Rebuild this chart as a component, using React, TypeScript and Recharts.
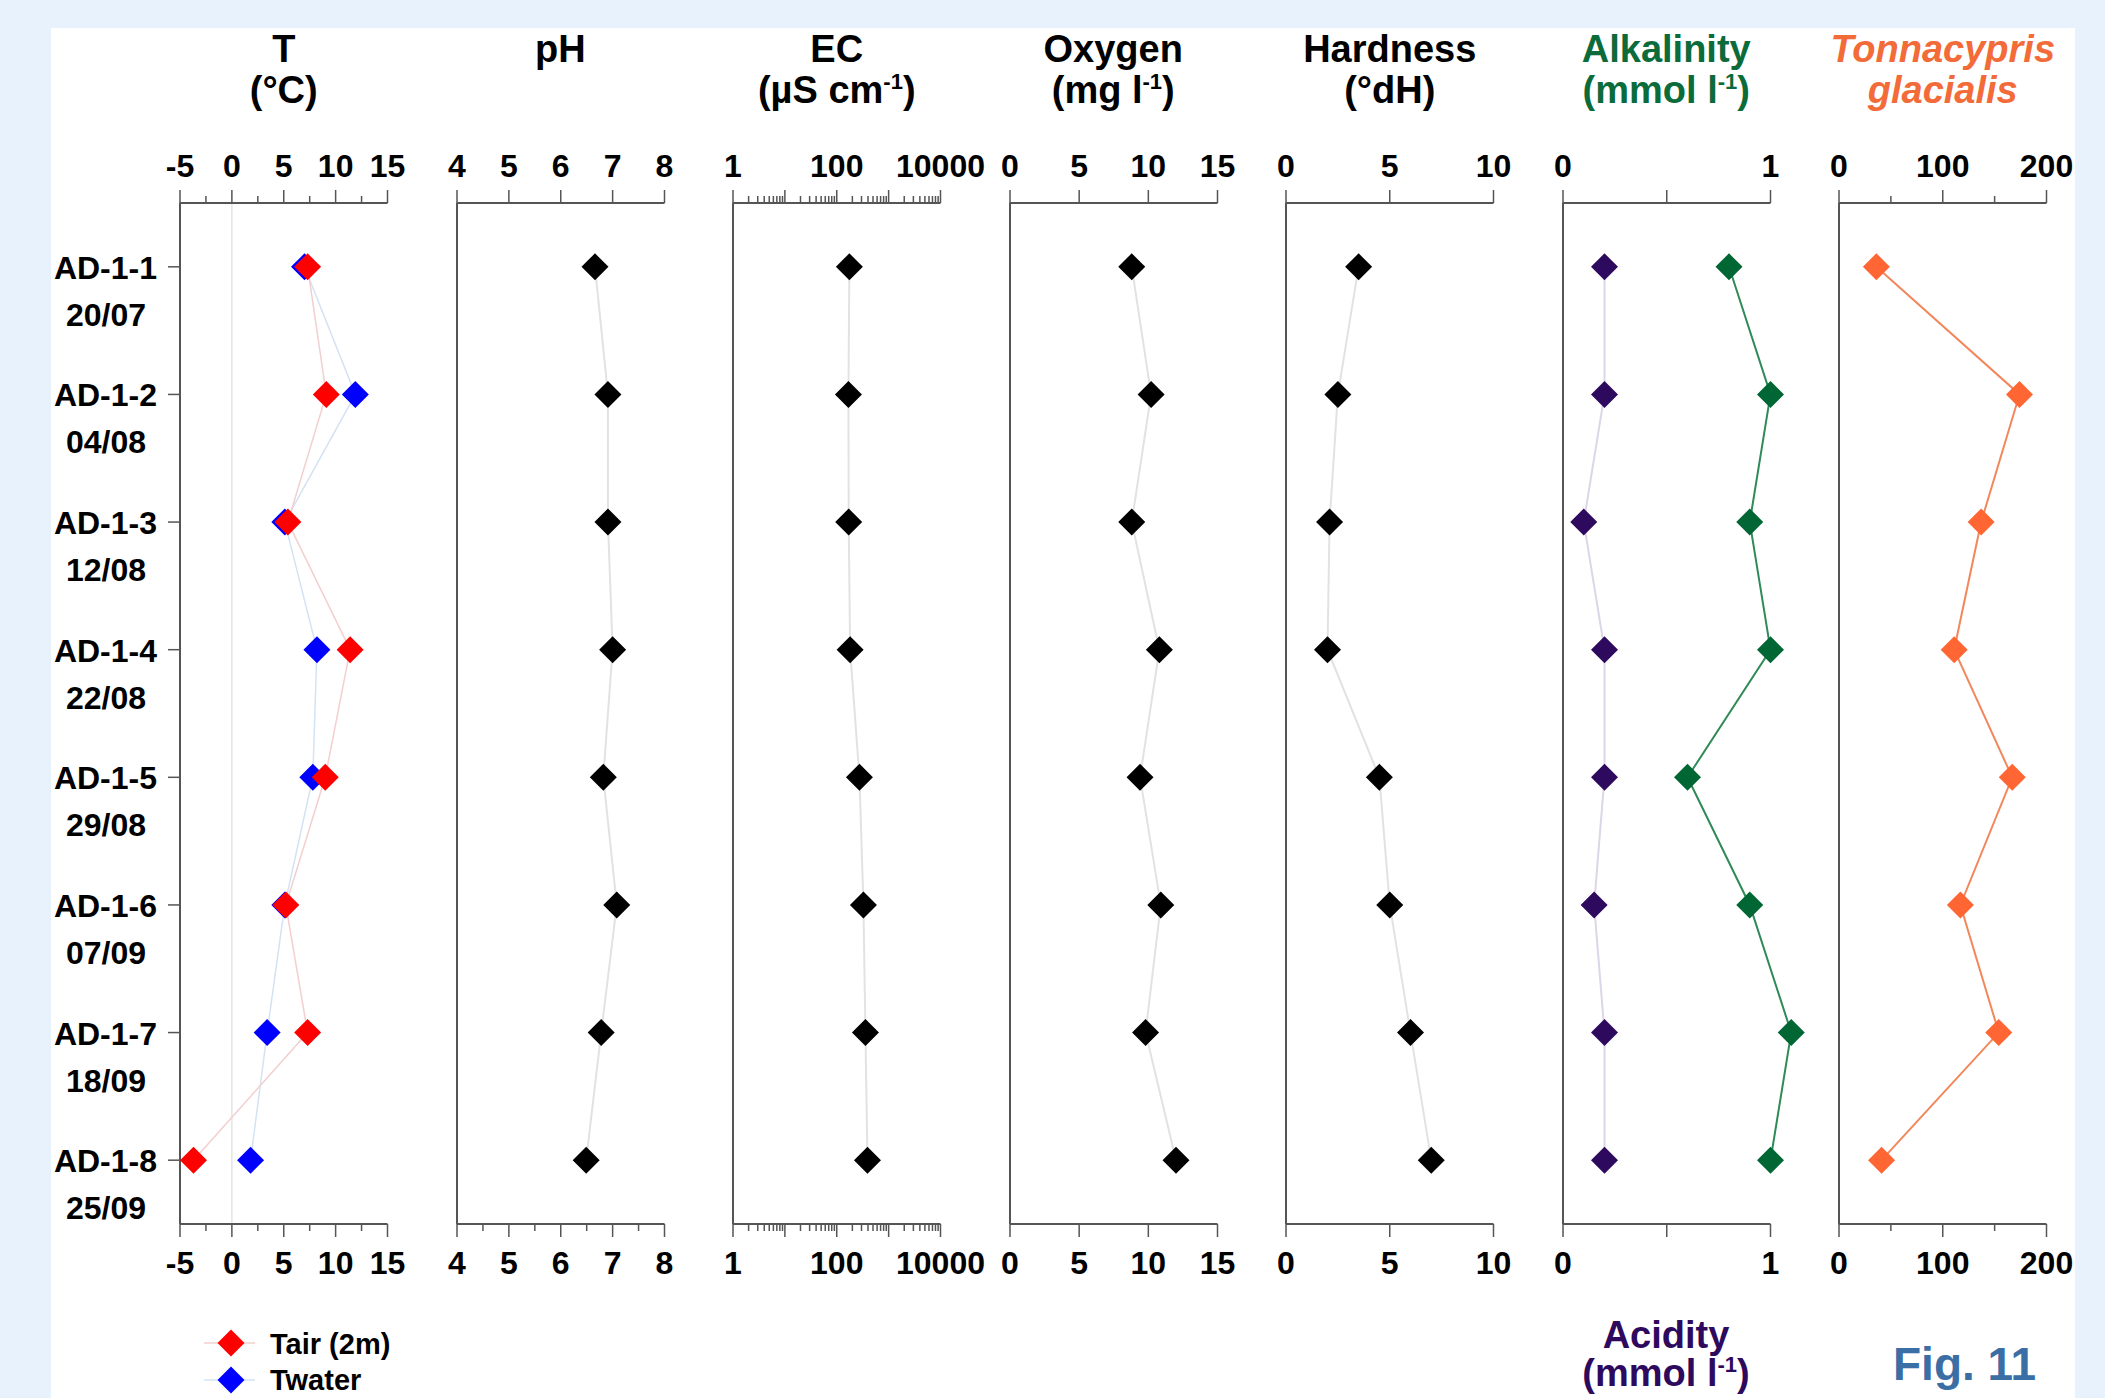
import React from "react";
import { ReferenceLine, Scatter, ScatterChart, XAxis, YAxis } from "recharts";

// sampling sites and dates (top to bottom)
const sites = ["AD-1-1", "AD-1-2", "AD-1-3", "AD-1-4", "AD-1-5", "AD-1-6", "AD-1-7", "AD-1-8"];
const dates = ["20/07", "04/08", "12/08", "22/08", "29/08", "07/09", "18/09", "25/09"];

// measured values per site
const tAir = [7.3, 9.1, 5.4, 11.4, 9.0, 5.2, 7.3, -3.7];
const tWater = [7.0, 11.9, 5.1, 8.2, 7.8, 5.1, 3.4, 1.8];
const ph = [6.66, 6.91, 6.91, 7.0, 6.82, 7.08, 6.78, 6.49];
const ec = [175, 168, 170, 181, 274, 327, 357, 391];
const oxygen = [8.8, 10.2, 8.8, 10.8, 9.4, 10.9, 9.8, 12.0];
const hardness = [3.5, 2.5, 2.1, 2.0, 4.5, 5.0, 6.0, 7.0];
const alkalinity = [0.8, 1.0, 0.9, 1.0, 0.6, 0.9, 1.1, 1.0];
const acidity = [0.2, 0.2, 0.1, 0.2, 0.2, 0.15, 0.2, 0.2];
const tonnacypris = [36, 174, 137, 111, 167, 117, 154, 41];

// axis ticks
const tTicks = [-5, -2.5, 0, 2.5, 5, 7.5, 10, 12.5, 15];
const tLabels = [-5, 0, 5, 10, 15];
const phTopTicks = [4, 5, 6, 7, 8];
const phBottomTicks = [4, 4.5, 5, 5.5, 6, 6.5, 7, 7.5, 8];
const ecTicks = [
  1, 2, 3, 4, 5, 6, 7, 8, 9,
  10, 20, 30, 40, 50, 60, 70, 80, 90,
  100, 200, 300, 400, 500, 600, 700, 800, 900,
  1000, 2000, 3000, 4000, 5000, 6000, 7000, 8000, 9000,
  10000,
];
const ecMajors = [1, 10, 100, 1000, 10000];
const ecLabels = [1, 100, 10000];
const oxygenTicks = [0, 5, 10, 15];
const hardnessTicks = [0, 5, 10];
const alkTicks = [0, 0.5, 1];
const alkLabels = [0, 1];
const tonnaTicks = [0, 50, 100, 150, 200];
const tonnaLabels = [0, 100, 200];

const positions = sites.map((_, i) => i + 1);

const FONT = '"Liberation Sans", Arial, Helvetica, sans-serif';
const AXIS = "#555555";
const PAGE_W = 2105;
const PAGE_H = 1398;
const PLOT_TOP = 203;
const PLOT_BOTTOM = 1224;
const FIRST_LEFT = 180;
const PANEL_STEP = 276.5;
const PANEL_W = 207.5;

const axisStyle = { stroke: AXIS, strokeWidth: 2 };

function makeXTick(side: "top" | "bottom", majors: number[], labels: number[]) {
  return (p: any) => {
    const v = p.payload.value;
    const len = majors.includes(v) ? 13 : 7;
    const dir = side === "top" ? -1 : 1;
    return (
      <g>
        <line x1={p.x} x2={p.x} y1={p.y} y2={p.y + dir * len} stroke={AXIS} strokeWidth={1.5} />
        {labels.includes(v) && (
          <text
            x={p.x}
            y={side === "top" ? p.y - 26 : p.y + 50}
            textAnchor="middle"
            fontFamily={FONT}
            fontWeight="bold"
            fontSize={32}
            fill="#000"
          >
            {String(v)}
          </text>
        )}
      </g>
    );
  };
}

const categoryTick = (p: any) => {
  const i = p.payload.value - 1;
  return (
    <g>
      <line x1={p.x - 12} x2={p.x} y1={p.y} y2={p.y} stroke={AXIS} strokeWidth={1.5} />
      <text x={p.x - 23} y={p.y + 12} textAnchor="end" fontFamily={FONT} fontWeight="bold" fontSize={32} fill="#000">
        {sites[i]}
      </text>
      <text x={p.x - 74} y={p.y + 59} textAnchor="middle" fontFamily={FONT} fontWeight="bold" fontSize={32} fill="#000">
        {dates[i]}
      </text>
    </g>
  );
};

const diamond = (fill: string) => (p: any) => {
  const { cx, cy } = p;
  if (cx == null || cy == null) return <g />;
  const r = 13.5;
  return <polygon points={`${cx},${cy - r} ${cx + r},${cy} ${cx},${cy + r} ${cx - r},${cy}`} fill={fill} />;
};

const hiddenShape = () => <g />;

type Series = { values: number[]; fill: string; line: string; lineWidth: number };

interface PanelProps {
  index: number;
  domain: [number, number];
  visibleMax?: number;
  log?: boolean;
  topTicks: number[];
  bottomTicks: number[];
  majors: number[];
  labels: number[];
  series: Series[];
  categories?: boolean;
  zeroLine?: boolean;
}

function Panel(props: PanelProps) {
  const { index, domain, visibleMax, log, topTicks, bottomTicks, majors, labels, series, categories, zeroLine } = props;
  const left = FIRST_LEFT + index * PANEL_STEP;
  const trim = visibleMax !== undefined;
  const plotW = trim ? (PANEL_W * (domain[1] - domain[0])) / ((visibleMax as number) - domain[0]) : PANEL_W;
  const yW = categories ? 170 : 20;
  const rightPad = 70;
  const scaleProps = log ? { scale: "log" as const } : {};
  const toPoints = (values: number[]) => values.map((v, i) => ({ x: v, pos: i + 1 }));

  return (
    <div style={{ position: "absolute", left: left - yW, top: 0 }}>
      <ScatterChart width={yW + plotW + rightPad} height={PAGE_H} margin={{ top: 0, right: rightPad, bottom: 0, left: 0 }}>
        <XAxis
          xAxisId="t"
          orientation="top"
          type="number"
          dataKey="x"
          height={PLOT_TOP}
          domain={domain}
          {...scaleProps}
          ticks={topTicks}
          interval={0}
          tickSize={0}
          tickMargin={0}
          tickLine={false}
          axisLine={trim ? false : axisStyle}
          tick={makeXTick("top", majors, labels)}
        />
        <XAxis
          xAxisId="b"
          orientation="bottom"
          type="number"
          dataKey="x"
          height={PAGE_H - PLOT_BOTTOM}
          domain={domain}
          {...scaleProps}
          ticks={bottomTicks}
          interval={0}
          tickSize={0}
          tickMargin={0}
          tickLine={false}
          axisLine={trim ? false : axisStyle}
          tick={makeXTick("bottom", majors, labels)}
        />
        <YAxis
          type="number"
          dataKey="pos"
          domain={[0.5, 8.5]}
          reversed
          ticks={positions}
          interval={0}
          width={yW}
          tickSize={0}
          tickMargin={0}
          tickLine={false}
          axisLine={axisStyle}
          tick={categories ? categoryTick : false}
        />
        {zeroLine && <ReferenceLine xAxisId="b" x={0} stroke="#e4e4e4" strokeWidth={1.5} />}
        {trim && (
          <ReferenceLine
            xAxisId="b"
            ifOverflow="visible"
            segment={[{ x: domain[0], y: 0.5 }, { x: visibleMax as number, y: 0.5 }]}
            stroke={AXIS}
            strokeWidth={2}
          />
        )}
        {trim && (
          <ReferenceLine
            xAxisId="b"
            ifOverflow="visible"
            segment={[{ x: domain[0], y: 8.5 }, { x: visibleMax as number, y: 8.5 }]}
            stroke={AXIS}
            strokeWidth={2}
          />
        )}
        {/* invisible series so the top axis gets its own scale and ticks */}
        <Scatter xAxisId="t" data={toPoints(series[0].values)} shape={hiddenShape} isAnimationActive={false} />
        {series.map((s, k) => (
          <Scatter
            key={k}
            xAxisId="b"
            data={toPoints(s.values)}
            line={{ stroke: s.line, strokeWidth: s.lineWidth }}
            lineType="joint"
            shape={diamond(s.fill)}
            isAnimationActive={false}
          />
        ))}
      </ScatterChart>
    </div>
  );
}

const titleBase: React.CSSProperties = {
  position: "absolute",
  top: 29,
  width: 320,
  textAlign: "center",
  fontFamily: FONT,
  fontWeight: "bold",
  fontSize: 38,
  lineHeight: "41px",
  whiteSpace: "nowrap",
};

const Sup = ({ children }: { children: React.ReactNode }) => (
  <span style={{ fontSize: 22, position: "relative", top: -14 }}>{children}</span>
);

function Title({ index, color, italic, children }: { index: number; color?: string; italic?: boolean; children: React.ReactNode }) {
  const center = FIRST_LEFT + index * PANEL_STEP + PANEL_W / 2;
  return (
    <div style={{ ...titleBase, left: center - 160, color: color ?? "#000", fontStyle: italic ? "italic" : "normal" }}>
      {children}
    </div>
  );
}

export default function App() {
  return (
    <div style={{ position: "absolute", left: 0, top: 0, width: PAGE_W, height: PAGE_H, background: "#e8f2fd", overflow: "hidden" }}>
      <div style={{ position: "absolute", left: 51, top: 28, width: 2024, height: PAGE_H - 28, background: "#ffffff" }} />

      <Title index={0}>T<br />(°C)</Title>
      <Title index={1}>pH</Title>
      <Title index={2}>EC<br />(µS cm<Sup>-1</Sup>)</Title>
      <Title index={3}>Oxygen<br />(mg l<Sup>-1</Sup>)</Title>
      <Title index={4}>Hardness<br />(°dH)</Title>
      <Title index={5} color="#0b6b3a">Alkalinity<br />(mmol l<Sup>-1</Sup>)</Title>
      <Title index={6} color="#f26b38" italic>Tonnacypris<br />glacialis</Title>

      <Panel
        index={0}
        domain={[-5, 15]}
        topTicks={tTicks}
        bottomTicks={tTicks}
        majors={tLabels}
        labels={tLabels}
        categories
        zeroLine
        series={[
          { values: tWater, fill: "#0000ff", line: "#d3e3f3", lineWidth: 1.5 },
          { values: tAir, fill: "#ff0000", line: "#f3cfcf", lineWidth: 1.5 },
        ]}
      />
      <Panel
        index={1}
        domain={[4, 8]}
        topTicks={phTopTicks}
        bottomTicks={phBottomTicks}
        majors={phTopTicks}
        labels={phTopTicks}
        series={[{ values: ph, fill: "#000000", line: "#e2e2e2", lineWidth: 2 }]}
      />
      <Panel
        index={2}
        domain={[1, 10000]}
        log
        topTicks={ecTicks}
        bottomTicks={ecTicks}
        majors={ecMajors}
        labels={ecLabels}
        series={[{ values: ec, fill: "#000000", line: "#e2e2e2", lineWidth: 2 }]}
      />
      <Panel
        index={3}
        domain={[0, 15]}
        topTicks={oxygenTicks}
        bottomTicks={oxygenTicks}
        majors={oxygenTicks}
        labels={oxygenTicks}
        series={[{ values: oxygen, fill: "#000000", line: "#e2e2e2", lineWidth: 2 }]}
      />
      <Panel
        index={4}
        domain={[0, 10]}
        topTicks={hardnessTicks}
        bottomTicks={hardnessTicks}
        majors={hardnessTicks}
        labels={hardnessTicks}
        series={[{ values: hardness, fill: "#000000", line: "#e2e2e2", lineWidth: 2 }]}
      />
      <Panel
        index={5}
        domain={[0, 1.2]}
        visibleMax={1}
        topTicks={alkTicks}
        bottomTicks={alkTicks}
        majors={alkTicks}
        labels={alkLabels}
        series={[
          { values: acidity, fill: "#2e0a5e", line: "#ddd5e8", lineWidth: 2 },
          { values: alkalinity, fill: "#006633", line: "#2f8a58", lineWidth: 2 },
        ]}
      />
      <Panel
        index={6}
        domain={[0, 200]}
        topTicks={tonnaTicks}
        bottomTicks={tonnaTicks}
        majors={tonnaLabels}
        labels={tonnaLabels}
        series={[{ values: tonnacypris, fill: "#ff6633", line: "#f2875c", lineWidth: 2 }]}
      />

      {/* legend for temperature panel */}
      <svg style={{ position: "absolute", left: 190, top: 1304 }} width={260} height={93}>
        <line x1={14} x2={65} y1={39} y2={39} stroke="#f3cfcf" strokeWidth={1.5} />
        <polygon points="41,25.5 54.5,39 41,52.5 27.5,39" fill="#ff0000" />
        <text x={80} y={50} fontFamily={FONT} fontWeight="bold" fontSize={29} fill="#000">
          Tair (2m)
        </text>
        <line x1={14} x2={65} y1={76} y2={76} stroke="#d3e3f3" strokeWidth={1.5} />
        <polygon points="41,62.5 54.5,76 41,89.5 27.5,76" fill="#0000ff" />
        <text x={80} y={86} fontFamily={FONT} fontWeight="bold" fontSize={29} fill="#000">
          Twater
        </text>
      </svg>

      <div
        style={{
          position: "absolute",
          left: 1666 - 160,
          top: 1316,
          width: 320,
          textAlign: "center",
          fontFamily: FONT,
          fontWeight: "bold",
          fontSize: 38,
          lineHeight: "38px",
          color: "#2e0a5e",
          whiteSpace: "nowrap",
        }}
      >
        Acidity
        <br />
        (mmol l<Sup>-1</Sup>)
      </div>

      <div
        style={{
          position: "absolute",
          left: 1893,
          top: 1341,
          fontFamily: FONT,
          fontWeight: "bold",
          fontSize: 46,
          lineHeight: "46px",
          color: "#3a6ea5",
          whiteSpace: "nowrap",
        }}
      >
        Fig. 11
      </div>
    </div>
  );
}
